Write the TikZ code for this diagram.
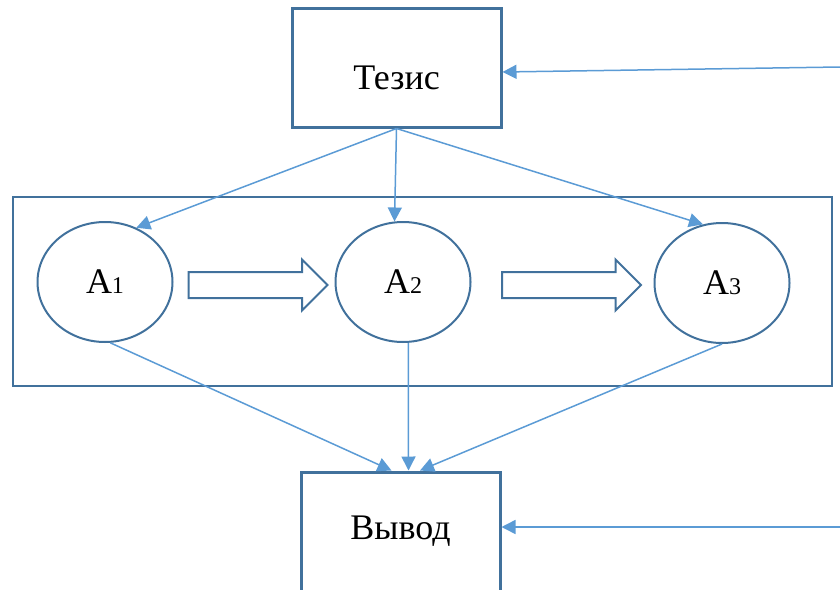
\documentclass[tikz,border=0pt]{standalone}
\usepackage{fontspec}
\setmainfont{Liberation Serif}
\usetikzlibrary{shapes.geometric}
\usetikzlibrary{shapes.arrows}
\usetikzlibrary{arrows.meta}

\definecolor{boxblue}{RGB}{65,113,156}
\definecolor{linkblue}{RGB}{91,155,213}

\newcommand{\argidx}[1]{{\fontsize{12}{12}\selectfont #1}}

\tikzset{
  mainbox/.style={draw=boxblue, line width=1.5pt, rectangle, inner sep=0pt},
  argnode/.style={draw=boxblue, line width=1pt, ellipse, inner sep=0pt,
    minimum width=67.5pt, minimum height=60pt},
  flowarrow/.style={draw=boxblue, line width=1pt, single arrow, inner xsep=0pt,
    inner ysep=6pt, single arrow head extend=6.25pt, minimum height=69.5pt},
  link/.style={draw=linkblue, line width=0.75pt, -{Triangle[length=7pt,width=7pt]}},
}

\begin{document}
\begin{tikzpicture}[x=0.5pt, y=-0.5pt, font=\fontsize{18}{21}\selectfont]
            \useasboundingbox (0,0) rectangle (840,589);

            \coordinate (intop) at (840,67);
            \coordinate (inbot) at (840,527);

            \node[mainbox, minimum width=104.5pt, minimum height=59.5pt,
              label={[yshift=-5pt]center:Тезис}] (tezis) at (396.5,67.5) {};
            \node[mainbox, line width=1.3pt, minimum width=409.5pt, minimum height=94.5pt] (group) at (422.5,291.5) {};
            \node[mainbox, minimum width=99.5pt, minimum height=62.5pt,
              label={[yshift=1.7pt]center:Вывод}] (vyvod) at (400.5,534.5) {};

            \node[argnode] (a1) at (105,282) {A\argidx{1}};
            \node[argnode] (a2) at (403,282) {A\argidx{2}};
            \node[argnode] (a3) at (722,283) {A\argidx{3}};

            \node[flowarrow] (arr1) at (251.5,285) {};
            \node[flowarrow] (arr2) at (565,285) {};

            \draw[link] (intop) -- ([yshift=-2.25pt]tezis.east);
            \draw[link] (inbot) -- ([yshift=3.75pt]vyvod.east);

            \draw[link] (tezis.south) -- (a1.60);
            \draw[link] (tezis.south) -- (a2.98);
            \draw[link] (tezis.south) -- (a3.108);

            \draw[link] (a1.-85) -- ([xshift=-4.5pt]vyvod.north);
            \draw[link] (a2.-85) -- ([xshift=4pt]vyvod.north);
            \draw[link] (a3.south) -- ([xshift=9.75pt]vyvod.north);
\end{tikzpicture}
\end{document}
